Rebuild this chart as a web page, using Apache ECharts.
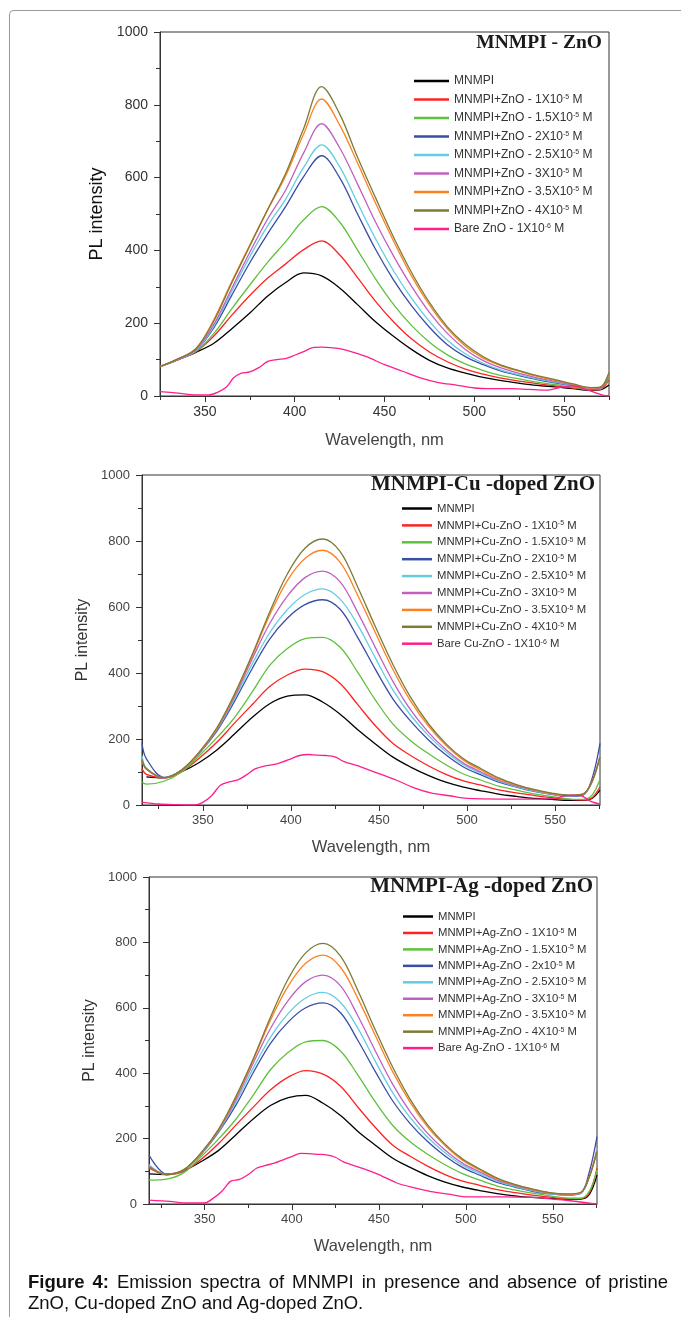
<!DOCTYPE html>
<html>
<head>
<meta charset="utf-8">
<script src="https://cdn.jsdelivr.net/npm/echarts@6/dist/echarts.min.js"></script>
<style>
  html, body { margin: 0; padding: 0; background: #fff; }
  #frame { position: absolute; left: 9px; top: 10px; width: 700px; height: 1330px;
           border-left: 1px solid #9a9a9a; border-top: 1px solid #9a9a9a; border-top-left-radius: 5px; }
  #chart { position: absolute; left: 0; top: 0; width: 681px; height: 1317px; }
  #cap { position: absolute; left: 28px; top: 1271px; width: 640px; font: 18.5px 'Liberation Sans', Arial, sans-serif;
         line-height: 21px; color: #111; }
  #cap .l1 { text-align: justify; text-align-last: justify; white-space: nowrap; }
</style>
</head>
<body>
<div id="frame"></div>
<div id="chart"></div>
<div id="cap">
  <div class="l1"><b>Figure 4:</b> Emission spectra of MNMPI in presence and absence of pristine</div>
  <div>ZnO, Cu-doped ZnO and Ag-doped ZnO.</div>
</div>
<script>
// ── 数据：三组发射光谱 ──
var COLORS = ['#000000', '#ff2222', '#5ec13c', '#3a4ea6', '#62cde0', '#c060c0', '#ff8020', '#7d7b35', '#ff1e8c'];

// 面板1: MNMPI - ZnO
var ZNO_WL = [325, 335, 345, 355, 365, 375, 385, 395, 405, 415, 425, 435, 445, 455, 465, 475, 485, 495, 505, 515, 525, 535, 545, 555, 565, 570, 575];
var ZNO_MNMPI = [81, 100, 120, 145, 185, 228, 275, 312, 338, 330, 297, 251, 204, 164, 128, 98, 77, 63, 51, 42, 35, 29, 25, 20, 16, 17, 30];
var ZNO_1X = [81, 100, 122, 165, 222, 276, 324, 363, 402, 426, 388, 325, 260, 204, 157, 121, 94, 74, 60, 49, 41, 34, 28, 22, 17, 18, 45];
var ZNO_15X = [81, 100, 122, 172, 240, 305, 368, 424, 484, 520, 478, 401, 322, 252, 194, 148, 113, 88, 70, 56, 47, 38, 31, 24, 18, 19, 50];
var ZNO_2X = [81, 100, 125, 188, 277, 366, 446, 521, 603, 660, 600, 500, 403, 319, 248, 189, 141, 108, 86, 68, 56, 45, 36, 28, 19, 20, 58];
var ZNO_25X = [81, 100, 125, 192, 288, 383, 468, 541, 628, 690, 630, 530, 432, 344, 269, 205, 153, 116, 90, 71, 58, 47, 38, 29, 20, 21, 58];
var ZNO_3X = [81, 100, 127, 197, 296, 395, 487, 566, 668, 748, 682, 582, 478, 385, 302, 230, 172, 128, 97, 77, 62, 50, 40, 30, 21, 22, 60];
var ZNO_35X = [81, 102, 130, 210, 315, 415, 512, 605, 720, 816, 745, 640, 530, 426, 330, 250, 185, 137, 104, 83, 68, 54, 43, 32, 22, 24, 62];
var ZNO_4X = [81, 102, 130, 206, 311, 412, 513, 612, 735, 850, 775, 656, 545, 437, 340, 257, 190, 142, 108, 85, 70, 56, 45, 33, 23, 24, 65];
var ZNO_BARE_WL = [325, 335, 345, 352, 357, 362, 366, 370, 375, 380, 385, 390, 395, 400, 405, 410, 415, 420, 425, 430, 440, 450, 460, 470, 480, 490, 500, 510, 520, 530, 540, 548, 555, 562, 568, 572, 575];
var ZNO_BARE = [12, 8, 3, 3, 10, 25, 50, 62, 66, 78, 95, 100, 103, 112, 122, 133, 134, 133, 130, 124, 108, 86, 68, 50, 37, 30, 22, 20, 20, 18, 16, 24, 28, 18, 8, 2, 0];
var ZNO_NAMES = ['MNMPI', 'MNMPI+ZnO - 1X10^-5 M', 'MNMPI+ZnO - 1.5X10^-5 M', 'MNMPI+ZnO - 2X10^-5 M',
  'MNMPI+ZnO - 2.5X10^-5 M', 'MNMPI+ZnO - 3X10^-5 M', 'MNMPI+ZnO - 3.5X10^-5 M', 'MNMPI+ZnO - 4X10^-5 M', 'Bare ZnO - 1X10^-6 M'];

// 面板2: MNMPI-Cu -doped ZnO
var CU_WL = [315.5, 318, 328, 338, 348, 358, 368, 378, 388, 398, 408, 418, 428, 438, 448, 458, 468, 478, 488, 498, 508, 518, 528, 538, 548, 558, 566, 571, 575.5];
var CU_MNMPI = [null, 85, 82, 101, 129, 167, 215, 265, 307, 330, 334, 312, 275, 228, 185, 145, 115, 90, 69, 54, 43, 33, 26, 20, 17, 14, 14, 20, 45];
var CU_1X = [110, 93, 82, 101, 142, 190, 248, 304, 359, 394, 412, 404, 368, 304, 240, 186, 150, 119, 93, 73, 60, 46, 37, 29, 22, 17, 15, 22, 55];
var CU_15X = [70, 63, 72, 100, 149, 204, 265, 342, 423, 474, 504, 508, 478, 402, 318, 245, 195, 156, 122, 94, 75, 57, 45, 34, 26, 18, 17, 30, 78];
var CU_2X = [187, 140, 84, 106, 157, 224, 314, 413, 503, 566, 607, 622, 593, 507, 411, 321, 254, 198, 152, 115, 91, 69, 54, 41, 32, 26, 30, 80, 187];
var CU_25X = [150, 112, 82, 106, 158, 228, 322, 427, 522, 592, 638, 655, 624, 545, 445, 348, 272, 211, 161, 122, 96, 72, 56, 43, 33, 27, 32, 70, 150];
var CU_3X = [140, 108, 82, 106, 159, 230, 328, 442, 550, 633, 689, 709, 676, 583, 477, 374, 288, 221, 168, 127, 100, 75, 58, 45, 34, 28, 33, 70, 145];
var CU_35X = [135, 109, 82, 106, 160, 232, 333, 451, 576, 680, 747, 772, 735, 635, 522, 410, 315, 240, 181, 136, 106, 79, 60, 46, 35, 29, 33, 72, 146];
var CU_4X = [136, 110, 82, 106, 160, 234, 336, 455, 585, 700, 778, 806, 768, 660, 540, 425, 326, 247, 186, 140, 110, 82, 62, 47, 36, 30, 34, 72, 146];
var CU_BARE_WL = [315.5, 325, 335, 345, 350, 355, 360, 365, 370, 375, 380, 385, 390, 395, 400, 405, 410, 415, 420, 425, 430, 440, 450, 460, 470, 480, 490, 500, 520, 540, 550, 555, 560, 565, 570, 575.5];
var CU_BARE = [8, 3, 1, 0, 8, 28, 60, 70, 76, 92, 110, 118, 122, 130, 140, 150, 153, 151, 150, 146, 132, 115, 95, 75, 52, 36, 28, 20, 18, 18, 20, 28, 30, 28, 12, 3];
var CU_NAMES = ['MNMPI', 'MNMPI+Cu-ZnO - 1X10^-5 M', 'MNMPI+Cu-ZnO - 1.5X10^-5 M', 'MNMPI+Cu-ZnO - 2X10^-5 M',
  'MNMPI+Cu-ZnO - 2.5X10^-5 M', 'MNMPI+Cu-ZnO - 3X10^-5 M', 'MNMPI+Cu-ZnO - 3.5X10^-5 M', 'MNMPI+Cu-ZnO - 4X10^-5 M', 'Bare Cu-ZnO - 1X10^-6 M'];

// 面板3: MNMPI-Ag -doped ZnO
var AG_WL = [318, 328, 338, 348, 358, 368, 378, 388, 398, 408, 418, 428, 438, 448, 458, 468, 478, 488, 498, 508, 518, 528, 538, 548, 558, 566, 571, 575.3];
var AG_MNMPI = [92, 90, 102, 130, 164, 212, 261, 302, 325, 332, 308, 271, 222, 180, 140, 112, 87, 67, 52, 41, 32, 25, 20, 17, 15, 15, 30, 89];
var AG_1X = [110, 90, 100, 137, 185, 242, 297, 350, 388, 408, 397, 360, 296, 234, 180, 146, 116, 90, 70, 57, 44, 35, 27, 21, 17, 17, 35, 110];
var AG_15X = [73, 76, 96, 145, 199, 260, 334, 412, 464, 496, 500, 468, 394, 312, 240, 190, 152, 120, 93, 73, 55, 43, 33, 25, 18, 17, 40, 104];
var AG_2X = [150, 92, 104, 153, 220, 303, 403, 493, 557, 600, 615, 585, 500, 405, 315, 246, 191, 147, 112, 88, 66, 52, 39, 31, 27, 33, 100, 206];
var AG_25X = [120, 90, 104, 154, 223, 313, 417, 512, 583, 630, 647, 616, 537, 436, 340, 264, 204, 157, 119, 93, 69, 54, 41, 32, 28, 33, 85, 170];
var AG_3X = [115, 90, 104, 155, 225, 320, 432, 539, 623, 680, 700, 667, 575, 468, 366, 282, 216, 165, 125, 98, 73, 57, 43, 33, 29, 34, 85, 165];
var AG_35X = [114, 90, 105, 156, 227, 327, 442, 565, 667, 736, 761, 724, 628, 515, 404, 311, 236, 179, 134, 104, 77, 59, 45, 34, 30, 35, 85, 162];
var AG_4X = [114, 90, 105, 157, 229, 330, 446, 574, 689, 768, 797, 758, 652, 532, 418, 320, 242, 183, 138, 107, 79, 60, 46, 35, 31, 36, 85, 160];
var AG_BARE_WL = [318, 330, 340, 350, 355, 360, 365, 370, 375, 380, 385, 390, 395, 400, 405, 410, 415, 420, 425, 430, 440, 450, 460, 470, 480, 490, 500, 520, 540, 550, 560, 570, 575.3];
var AG_BARE = [12, 8, 3, 3, 18, 40, 70, 75, 90, 110, 118, 125, 135, 145, 155, 154, 152, 150, 143, 128, 110, 90, 65, 50, 38, 30, 22, 22, 20, 15, 10, 3, 0];
var AG_NAMES = ['MNMPI', 'MNMPI+Ag-ZnO - 1X10^-5 M', 'MNMPI+Ag-ZnO - 1.5X10^-5 M', 'MNMPI+Ag-ZnO - 2x10^-5 M',
  'MNMPI+Ag-ZnO - 2.5X10^-5 M', 'MNMPI+Ag-ZnO - 3X10^-5 M', 'MNMPI+Ag-ZnO - 3.5X10^-5 M', 'MNMPI+Ag-ZnO - 4X10^-5 M', 'Bare Ag-ZnO - 1X10^-6 M'];

var MAJOR_TICKS = [350, 400, 450, 500, 550];
var MINOR_TICKS = [325, 375, 425, 475, 525, 575];

(function() {
  var chart = echarts.init(document.getElementById('chart'));
  var font = "'Liberation Sans', Arial, sans-serif";

  function pairs(wl, vals) {
    var out = [];
    for (var i = 0; i < wl.length; i++) out.push([wl[i], vals[i]]);
    return out;
  }

  // 每个面板的版式
  var panels = [
    { title: 'MNMPI - ZnO', names: ZNO_NAMES, wl: ZNO_WL, bareWl: ZNO_BARE_WL, bare: ZNO_BARE,
      curves: [ZNO_MNMPI, ZNO_1X, ZNO_15X, ZNO_2X, ZNO_25X, ZNO_3X, ZNO_35X, ZNO_4X],
      grid: { left: 160, top: 32, width: 449, height: 364 }, xmin: 325, xmax: 575,
      tickSize: 14, tickColor: '#333', yName: 18, yNameColor: '#111', yGap: 52, xGap: 36, xName: 16.5,
      titleSize: 19.5, titleRight: 79, titleTop: 33,
      legend: { left: 414, top: 75, w: 35, h: 2.5, size: 12, lh: 12, gap: 6.5 } },
    { title: 'MNMPI-Cu -doped ZnO', names: CU_NAMES, wl: CU_WL, bareWl: CU_BARE_WL, bare: CU_BARE,
      curves: [CU_MNMPI, CU_1X, CU_15X, CU_2X, CU_25X, CU_3X, CU_35X, CU_4X],
      grid: { left: 142, top: 475, width: 458, height: 330 }, xmin: 315.5, xmax: 575.5,
      tickSize: 13, tickColor: '#444', yName: 16, yNameColor: '#333', yGap: 38, xGap: 34, xName: 16.5,
      titleSize: 21, titleRight: 86, titleTop: 474,
      legend: { left: 402, top: 503, w: 30, h: 2.5, size: 11.3, lh: 11, gap: 5.9 } },
    { title: 'MNMPI-Ag -doped ZnO', names: AG_NAMES, wl: AG_WL, bareWl: AG_BARE_WL, bare: AG_BARE,
      curves: [AG_MNMPI, AG_1X, AG_15X, AG_2X, AG_25X, AG_3X, AG_35X, AG_4X],
      grid: { left: 149, top: 877, width: 448, height: 327 }, xmin: 318, xmax: 575.3,
      tickSize: 13, tickColor: '#444', yName: 16, yNameColor: '#333', yGap: 38, xGap: 34, xName: 16.5,
      titleSize: 21, titleRight: 88, titleTop: 876,
      legend: { left: 403, top: 911, w: 30, h: 2.5, size: 11.3, lh: 11, gap: 5.45 } }
  ];

  // 上标：把 "10^-5" 转成富文本
  function legendFmt(name) {
    var i = name.indexOf('^');
    if (i < 0) return '{t|' + name + '}';
    var j = name.indexOf(' ', i);
    return '{t|' + name.slice(0, i) + '}{s|' + name.slice(i + 1, j) + '}{t|' + name.slice(j) + '}';
  }

  var grids = [], xAxes = [], minorAxes = [], yAxes = [], titles = [], legends = [], series = [];

  panels.forEach(function(p, k) {
    grids.push(Object.assign({ show: true, borderColor: '#333', borderWidth: 1, backgroundColor: 'transparent' }, p.grid));

    xAxes.push({
      type: 'value', gridIndex: k, min: p.xmin, max: p.xmax, position: 'bottom',
      name: 'Wavelength, nm', nameLocation: 'middle', nameGap: p.xGap,
      nameTextStyle: { fontFamily: font, fontSize: p.xName, color: '#444' },
      axisLine: { onZero: false, lineStyle: { color: '#333', width: 1 } },
      axisTick: { customValues: MAJOR_TICKS, length: 6, lineStyle: { color: '#333' } },
      axisLabel: { customValues: MAJOR_TICKS, margin: 9, fontFamily: font, fontSize: p.tickSize, color: p.tickColor },
      splitLine: { show: false }
    });
    minorAxes.push({
      type: 'value', gridIndex: k, min: p.xmin, max: p.xmax, position: 'bottom',
      axisLine: { show: false },
      axisTick: { customValues: MINOR_TICKS, length: 4, lineStyle: { color: '#333' } },
      axisLabel: { show: false },
      splitLine: { show: false }
    });
    yAxes.push({
      type: 'value', gridIndex: k, min: 0, max: 1000, interval: 200,
      name: 'PL intensity', nameLocation: 'middle', nameGap: p.yGap,
      nameTextStyle: { fontFamily: font, fontSize: p.yName, color: p.yNameColor },
      axisLine: { show: true, lineStyle: { color: '#333', width: 1 } },
      axisTick: { show: true, length: 6, lineStyle: { color: '#333' } },
      minorTick: { show: true, splitNumber: 2, length: 4, lineStyle: { color: '#333' } },
      axisLabel: { margin: 12, fontFamily: font, fontSize: p.tickSize, color: p.tickColor,
                   formatter: function(v) { return String(v); } },
      splitLine: { show: false }
    });

    titles.push({
      text: p.title, right: p.titleRight, top: p.titleTop, padding: 0,
      textStyle: { fontFamily: "'Liberation Serif', 'Times New Roman', serif", fontWeight: 'bold', fontSize: p.titleSize, color: '#1a1a1a' }
    });

    var L = p.legend;
    legends.push({
      orient: 'vertical', left: L.left, top: L.top, padding: 0, itemGap: L.gap,
      itemWidth: L.w, itemHeight: L.h, icon: 'rect', selectedMode: false,
      data: p.names,
      formatter: legendFmt,
      textStyle: {
        fontFamily: font, fontSize: L.size, color: '#333', lineHeight: L.lh,
        rich: {
          t: { fontFamily: font, fontSize: L.size, color: '#333', lineHeight: L.lh },
          s: { fontFamily: font, fontSize: 7, color: '#333', lineHeight: 4, verticalAlign: 'top' }
        }
      }
    });

    p.curves.forEach(function(vals, c) {
      series.push({
        name: p.names[c], type: 'line', xAxisIndex: k, yAxisIndex: k,
        data: pairs(p.wl, vals), showSymbol: false, smooth: 0.35,
        lineStyle: { color: COLORS[c], width: 1.3 }, itemStyle: { color: COLORS[c] }
      });
    });
    series.push({
      name: p.names[8], type: 'line', xAxisIndex: k, yAxisIndex: k,
      data: pairs(p.bareWl, p.bare), showSymbol: false, smooth: 0.3,
      lineStyle: { color: COLORS[8], width: 1.3 }, itemStyle: { color: COLORS[8] }
    });
  });

  chart.setOption({
    animation: false,
    title: titles,
    legend: legends,
    grid: grids,
    xAxis: xAxes.concat(minorAxes),
    yAxis: yAxes,
    series: series
  });
  window.addEventListener('resize', function() { chart.resize(); });
})();
</script>
</body>
</html>
